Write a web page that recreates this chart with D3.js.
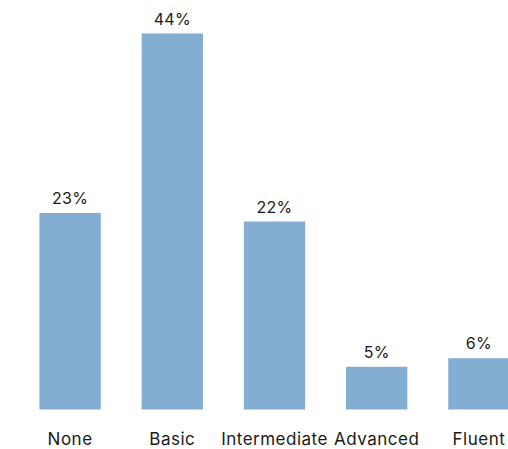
<!DOCTYPE html>
<html>
<head>
<meta charset="utf-8">
<script src="https://cdn.jsdelivr.net/npm/d3@7"></script>
<style>
  html, body { margin: 0; padding: 0; background: #fff; }
  svg text { font-family: Inter, "Open Sans", sans-serif; fill: #1a1a1a; }
</style>
</head>
<body>
<svg id="chart" width="508" height="449"></svg>
<script>
const categories = ["None", "Basic", "Intermediate", "Advanced", "Fluent"];
const values = [23, 44, 22, 5, 6];

const svg = d3.select("#chart");

const x = d3.scaleBand()
  .domain(categories)
  .range([19, 530])
  .paddingInner(0.4)
  .paddingOuter(0.2);

const y = d3.scaleLinear()
  .domain([0, 44])
  .range([409.5, 33.5]);

const data = categories.map((c, i) => ({ cat: c, val: values[i] }));

svg.selectAll("rect.bar")
  .data(data)
  .join("rect")
  .attr("class", "bar")
  .attr("x", d => x(d.cat))
  .attr("width", x.bandwidth())
  .attr("y", d => y(d.val))
  .attr("height", d => y(0) - y(d.val))
  .attr("fill", "#83aed2");

svg.selectAll("text.val")
  .data(data)
  .join("text")
  .attr("class", "val")
  .attr("x", d => x(d.cat) + x.bandwidth() / 2)
  .attr("y", d => y(d.val) - 9)
  .attr("text-anchor", "middle")
  .attr("font-size", 16)
  .attr("letter-spacing", 0.3)
  .text(d => d.val + "%");

const axis = d3.axisBottom(x).tickSize(0).tickPadding(23);
const g = svg.append("g")
  .attr("transform", `translate(0,${y(0)})`)
  .call(axis);
g.select(".domain").remove();
g.selectAll("text")
  .attr("font-size", 17)
  .attr("letter-spacing", 0.5)
  .style("font-family", "Inter, 'Open Sans', sans-serif")
  .attr("fill", "#1a1a1a");
</script>
</body>
</html>
